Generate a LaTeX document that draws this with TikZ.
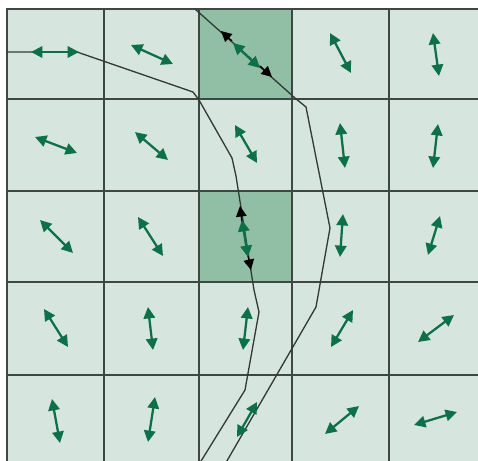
\documentclass[tikz,border=0pt]{standalone}
\usepackage{tikz}
\usetikzlibrary{arrows.meta}
\definecolor{cellpale}{RGB}{214,230,223}
\definecolor{celldark}{RGB}{144,191,166}
\definecolor{flowgreen}{RGB}{14,112,72}
\definecolor{gridgray}{RGB}{62,72,66}

\begin{document}
\begin{tikzpicture}[x=0.02cm, y=-0.02cm]
    \tikzstyle{cell}=[fill=cellpale, draw=gridgray, line width=0.9pt]
    \tikzstyle{hotcell}=[fill=celldark, draw=gridgray, line width=0.9pt]
    \tikzstyle{dir}=[{Triangle[length=6.5pt,width=6.5pt]}-{Triangle[length=6.5pt,width=6.5pt]},
      flowgreen, line width=1.3pt]
    \tikzstyle{path}=[gridgray!80!black, line width=0.75pt]
    \tikzstyle{tip}=[-{Triangle[length=6pt,width=6pt]}, black, line width=0.75pt]

    \useasboundingbox (0,0) rectangle (478,461);
    \fill[white] (0,0) rectangle (478,461);
    \clip (0,0) rectangle (478,461);

    % grid of cells
    \foreach \xa/\xb in {7/104,104/199,199/292,292/389,389/484}
      \foreach \ya/\yb in {9/99,99/191,191/282,282/375,375/468}
        \draw[cell] (\xa,\ya) rectangle (\xb,\yb);
    \draw[hotcell] (199,9) rectangle (292,99);
    \draw[hotcell] (199,191) rectangle (292,282);

    % the two lines
    \coordinate (p1) at (7,52);
    \coordinate (p2) at (77,52);
    \coordinate (p3) at (193,92);
    \coordinate (p4) at (199,100);
    \coordinate (p5) at (232,158);
    \coordinate (p6) at (236,176);
    \coordinate (p7) at (254,290);
    \coordinate (p8) at (259,312);
    \coordinate (p9) at (245,390);
    \coordinate (p10) at (198,466);
    \draw[path] (p1) -- (p2) -- (p3) -- (p4) -- (p5) -- (p6) -- (p7) -- (p8) -- (p9) -- (p10);

    \coordinate (q1) at (195,9);
    \coordinate (q2) at (295,98);
    \coordinate (q3) at (306,107);
    \coordinate (q4) at (330,228);
    \coordinate (q5) at (316,307);
    \coordinate (q6) at (224,466);
    \draw[path] (q1) -- (q2) -- (q3) -- (q4) -- (q5) -- (q6);

    % heads on the lines
    \draw[tip] (232,41) -- (221,31);
    \draw[tip] (260,66) -- (272,77);
    \draw[tip] (242,222) -- (240,206);
    \draw[tip] (248,256) -- (251,270);

    % directions, row by row
    \draw[dir] (31,52) -- (79,52);
    \draw[dir] (131,45) -- (173,64);
    \draw[dir] (233,43) -- (260,68);
    \draw[dir] (330,33) -- (351,73);
    \draw[dir] (433,33) -- (439,76);

    \draw[dir] (35,137) -- (77,153);
    \draw[dir] (135,132) -- (168,160);
    \draw[dir] (235,125) -- (257,163);
    \draw[dir] (340,123) -- (345,168);
    \draw[dir] (438,124) -- (433,168);

    \draw[dir] (40,220) -- (73,253);
    \draw[dir] (138,217) -- (163,256);
    \draw[dir] (242,220) -- (248,257);
    \draw[dir] (343,214) -- (340,257);
    \draw[dir] (440,216) -- (428,255);

    \draw[dir] (44,309) -- (68,347);
    \draw[dir] (148,307) -- (153,350);
    \draw[dir] (248,307) -- (243,350);
    \draw[dir] (353,310) -- (331,347);
    \draw[dir] (454,315) -- (418,342);

    \draw[dir] (52,399) -- (60,443);
    \draw[dir] (155,397) -- (148,442);
    \draw[dir] (257,402) -- (237,437);
    \draw[dir] (359,406) -- (325,434);
    \draw[dir] (457,412) -- (414,425);
  \end{tikzpicture}
\end{document}
